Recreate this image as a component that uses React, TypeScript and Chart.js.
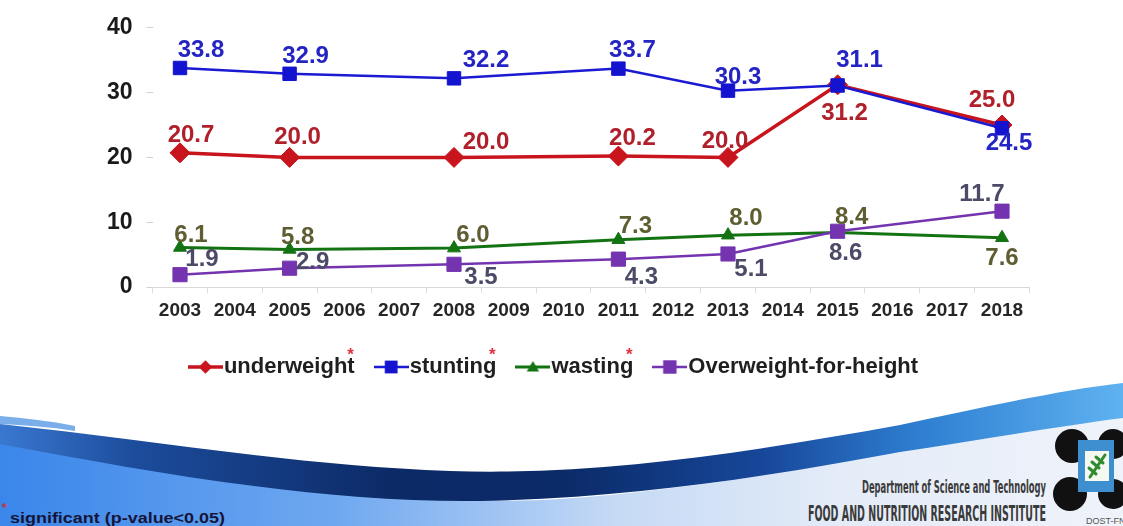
import React, { useEffect, useRef } from "react";
import { Chart, registerables } from "chart.js";

Chart.register(...registerables);

// ---------- data ----------
const yearTicks = [
  "2003", "2004", "2005", "2006", "2007", "2008", "2009", "2010",
  "2011", "2012", "2013", "2014", "2015", "2016", "2017", "2018",
];
const surveyYears = ["2003", "2005", "2008", "2011", "2013", "2015", "2018"];
const seriesNames = ["underweight", "stunting", "wasting", "Overweight-for-height"];
const underweight = [20.7, 20.0, 20.0, 20.2, 20.0, 31.2, 25.0];
const stunting = [33.8, 32.9, 32.2, 33.7, 30.3, 31.1, 24.5];
const wasting = [6.1, 5.8, 6.0, 7.3, 8.0, 8.4, 7.6];
const overweight = [1.9, 2.9, 3.5, 4.3, 5.1, 8.6, 11.7];
const yTicks = [0, 10, 20, 30, 40];
const significant = [true, true, true, false];

const seriesValues = [underweight, stunting, wasting, overweight];

// ---------- styles ----------
const FONT = "'Liberation Sans', Arial, Helvetica, sans-serif";
const NARROW = "'Liberation Sans Narrow', 'DejaVu Sans Condensed', 'Liberation Sans', sans-serif";
const styles = [
  { line: "#C8141C", marker: "#C8141C", label: "#B0202A", point: "rectRot", radius: 10, width: 3.5, order: 1 },
  { line: "#1A1AD2", marker: "#1414D0", label: "#2424C4", point: "rect", radius: 9.5, width: 2.5, order: 0 },
  { line: "#137313", marker: "#137313", label: "#5E5E32", point: "triangle", radius: 7.5, width: 3, order: 3 },
  { line: "#7434B0", marker: "#7434B0", label: "#4B4B68", point: "rect", radius: 10, width: 2.5, order: 2 },
];
// value-label offsets (dx, dy) from each point, in pixels
const labelOffsets = [
  [[11, -17], [8, -20], [32, -15], [14, -18], [-3, -16], [7, 29], [-10, -25]],
  [[21, -18], [16, -17], [32, -18], [14, -18], [10, -13], [22, -25], [7, 15]],
  [[11, -12], [8, -12], [19, -13], [17, -13], [18, -17], [14, -15], [0, 21]],
  [[22, -15], [23, -6], [27, 13], [23, 18], [23, 15], [8, 22], [-20, -17]],
];

function drawMarker(ctx: CanvasRenderingContext2D, kind: string, x: number, y: number, r: number) {
  ctx.beginPath();
  if (kind === "rect") {
    const s = r * Math.SQRT1_2;
    ctx.rect(x - s, y - s, 2 * s, 2 * s);
  } else if (kind === "rectRot") {
    const s = r * Math.SQRT1_2;
    ctx.moveTo(x - s, y);
    ctx.lineTo(x, y + s);
    ctx.lineTo(x + s, y);
    ctx.lineTo(x, y - s);
    ctx.closePath();
  } else {
    let a = 0;
    ctx.moveTo(x + Math.sin(a) * r, y - Math.cos(a) * r);
    a += (2 * Math.PI) / 3;
    ctx.lineTo(x + Math.sin(a) * r, y - Math.cos(a) * r);
    a += (2 * Math.PI) / 3;
    ctx.lineTo(x + Math.sin(a) * r, y - Math.cos(a) * r);
    ctx.closePath();
  }
  ctx.fill();
}

function makeLegendMarker(i: number): HTMLCanvasElement {
  const st = styles[i];
  const c = document.createElement("canvas");
  c.width = 35;
  c.height = 22;
  const ctx = c.getContext("2d")!;
  ctx.strokeStyle = st.line;
  ctx.lineWidth = st.width;
  ctx.beginPath();
  ctx.moveTo(0, 11);
  ctx.lineTo(35, 11);
  ctx.stroke();
  ctx.fillStyle = st.marker;
  drawMarker(ctx, st.point, 17.5, st.point === "triangle" ? 12 : 11, st.radius * 0.95);
  return c;
}

const valueLabels = {
  id: "valueLabels",
  afterDatasetsDraw(chart: any) {
    const ctx = chart.ctx;
    ctx.save();
    ctx.font = `bold 24px ${FONT}`;
    ctx.textAlign = "center";
    ctx.textBaseline = "middle";
    chart.data.datasets.forEach((_ds: any, i: number) => {
      const meta = chart.getDatasetMeta(i);
      meta.data.forEach((pt: any, j: number) => {
        const [dx, dy] = labelOffsets[i][j];
        ctx.fillStyle = styles[i].label;
        ctx.fillText(seriesValues[i][j].toFixed(1), pt.x + dx, pt.y + dy);
      });
    });
    ctx.restore();
  },
};

const legendStars = {
  id: "legendStars",
  afterDraw(chart: any) {
    const boxes = chart.legend && chart.legend.legendHitBoxes;
    if (!boxes) return;
    const ctx = chart.ctx;
    ctx.save();
    ctx.font = `bold 17px ${FONT}`;
    ctx.fillStyle = "#E0303A";
    ctx.textAlign = "center";
    ctx.textBaseline = "middle";
    boxes.forEach((hb: any, i: number) => {
      if (!significant[i]) return;
      ctx.fillText("*", hb.left + hb.width - 4, hb.top + hb.height / 2 - 12);
    });
    ctx.restore();
  },
};

export default function App() {
  const canvasRef = useRef<HTMLCanvasElement | null>(null);

  useEffect(() => {
    if (!canvasRef.current) return;
    const markers = styles.map((_s, i) => makeLegendMarker(i));
    const chart = new Chart(canvasRef.current, {
      type: "line",
      data: {
        labels: yearTicks,
        datasets: seriesNames.map((name, i) => ({
          label: name,
          data: surveyYears.map((yr, j) => ({ x: yr, y: seriesValues[i][j] })),
          borderColor: styles[i].line,
          backgroundColor: styles[i].marker,
          borderWidth: styles[i].width,
          pointStyle: styles[i].point as any,
          pointRadius: styles[i].radius,
          pointBackgroundColor: styles[i].marker,
          pointBorderColor: styles[i].marker,
          pointBorderWidth: 1,
          tension: 0,
          fill: false,
          order: styles[i].order,
        })),
      },
      options: {
        animation: false,
        responsive: false,
        events: [],
        layout: { padding: { left: 86.6, right: 93.6, top: 25.3, bottom: 12 } },
        scales: {
          x: {
            type: "category",
            offset: true,
            grid: { display: true, drawOnChartArea: false, drawTicks: true, tickLength: 6, offset: true, color: "#DDDDDD" },
            border: { display: true, color: "#D9D9D9", width: 1 },
            ticks: { autoSkip: false, maxRotation: 0, padding: 6, color: "#262626", font: { family: FONT, size: 19, weight: "bold" } },
            afterFit: (s: any) => { s.height = 40; },
          },
          y: {
            min: 0,
            max: 40,
            afterBuildTicks: (s: any) => { s.ticks = yTicks.map((v) => ({ value: v })); },
            ticks: { padding: 14, color: "#1a1a1a", font: { family: FONT, size: 23, weight: "bold" } },
            grid: { display: true, drawOnChartArea: false, drawTicks: true, tickLength: 6, color: "#D0D0D0" },
            border: { display: false },
            afterFit: (s: any) => { s.width = 66; },
          },
        },
        plugins: {
          tooltip: { enabled: false },
          legend: {
            display: true,
            position: "bottom",
            labels: {
              usePointStyle: true,
              pointStyleWidth: 15,
              padding: 29,
              color: "#1f1f1f",
              font: { family: FONT, size: 22, weight: "bold" },
              generateLabels: () =>
                seriesNames.map((name, i) => ({
                  text: name,
                  datasetIndex: i,
                  pointStyle: markers[i],
                  fillStyle: styles[i].marker,
                  strokeStyle: styles[i].line,
                  lineWidth: 0,
                  hidden: false,
                  fontColor: "#1f1f1f",
                })) as any,
            },
          },
        },
      } as any,
      plugins: [valueLabels, legendStars],
    });
    return () => chart.destroy();
  }, []);

  return (
    <div style={{ position: "absolute", left: 0, top: 0, width: 1123, height: 526, overflow: "hidden", background: "#ffffff" }}>
      <svg width={1123} height={526} style={{ position: "absolute", left: 0, top: 0 }}>
        <defs>
          <linearGradient id="lowFill" x1="0" y1="0" x2="1" y2="0">
            <stop offset="0" stopColor="#3A86EA" />
            <stop offset="0.3" stopColor="#6FA8F0" />
            <stop offset="0.55" stopColor="#C6DAF5" />
            <stop offset="0.75" stopColor="#E4ECF8" />
            <stop offset="1" stopColor="#EFF3FA" />
          </linearGradient>
          <linearGradient id="band" x1="0" y1="0" x2="1" y2="0">
            <stop offset="0" stopColor="#3A78D0" />
            <stop offset="0.12" stopColor="#1C4C9C" />
            <stop offset="0.35" stopColor="#0C2A66" />
            <stop offset="0.5" stopColor="#0B2A68" />
            <stop offset="0.68" stopColor="#17479A" />
            <stop offset="0.82" stopColor="#2F7FD2" />
            <stop offset="1" stopColor="#5FB2F0" />
          </linearGradient>
        </defs>
        <path d="M0,436 C200,482 400,508 560,499 C750,486 900,446 1123,414 L1123,526 L0,526 Z" fill="url(#lowFill)" />
        <path d="M0,416 C25,418 50,421 75,426 L75,431 C50,427 25,425 0,424 Z" fill="#79AEEA" />
        <path
          d="M0,424 C150,440 300,466 450,471 C600,476 750,452 900,425 C980,408 1060,390 1123,383 L1123,418 C1060,426 980,440 900,452 C780,474 640,498 480,501 C320,503 150,472 0,444 Z"
          fill="url(#band)"
        />
        <text x={2} y={512} fontSize={12} fill="#D03030" fontFamily={FONT} fontWeight="bold">*</text>
        <text x={10} y={523} fontSize={15} fill="#15153A" fontFamily={FONT} fontWeight="bold" textLength={215} lengthAdjust="spacingAndGlyphs">
          significant (p-value&lt;0.05)
        </text>
        <text x={862} y={493} fontSize={17} fill="#3A3A3A" fontFamily={NARROW} fontWeight="bold" textLength={184} lengthAdjust="spacingAndGlyphs">
          Department of Science and Technology
        </text>
        <text x={808} y={521} fontSize={21} fill="#3A3A3A" fontFamily={NARROW} fontWeight="bold" textLength={238} lengthAdjust="spacingAndGlyphs">
          FOOD AND NUTRITION RESEARCH INSTITUTE
        </text>
        <g>
          <circle cx={1072} cy={446} r={17} fill="#111" />
          <circle cx={1113} cy={444} r={15} fill="#111" />
          <circle cx={1070} cy={494} r={17} fill="#111" />
          <circle cx={1113} cy={494} r={15} fill="#111" />
          <rect x={1078} y={440} width={36} height={52} fill="#3E8FD0" />
          <rect x={1085} y={451} width={24} height={30} fill="#F4F8F0" />
          <g stroke="#2E8B2E" strokeWidth={3} strokeLinecap="round">
            <line x1={1090} y1={477} x2={1105} y2={455} />
            <line x1={1092} y1={462} x2={1099} y2={468} />
            <line x1={1096} y1={457} x2={1103} y2={463} />
            <line x1={1089} y1={468} x2={1096} y2={474} />
          </g>
          <text x={1086} y={524} fontSize={9} fill="#555" fontFamily={FONT}>DOST-FNRI</text>
        </g>
      </svg>
      <canvas
        ref={canvasRef}
        width={1123}
        height={400}
        style={{ position: "absolute", left: 0, top: 0, width: 1123, height: 400 }}
      />
    </div>
  );
}
